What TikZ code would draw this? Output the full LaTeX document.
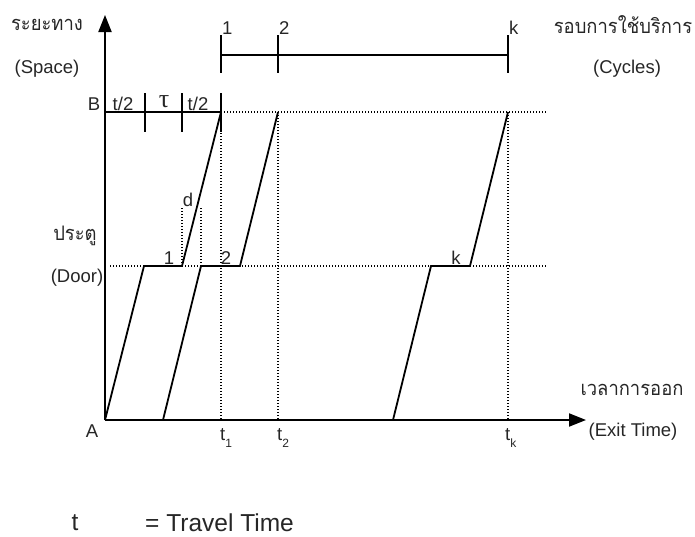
\documentclass[tikz,border=0pt]{standalone}
\usepackage{fontspec}
\setmainfont{Liberation Sans}
\newfontfamily\thaifont[Script=Thai,FakeStretch=0.92]{Loma}
\newfontfamily\serifgreek{Liberation Serif}
\usetikzlibrary{arrows.meta}
\newcommand{\tsub}[1]{t\raisebox{-0.4em}{\fontsize{12}{13}\selectfont #1}}
\begin{document}
\begin{tikzpicture}[x=1pt,y=-1pt,
  lbl/.style={inner sep=0pt,font=\fontsize{18.5}{21}\selectfont,text=black!85},
  thl/.style={inner sep=0pt,font=\thaifont\fontsize{20}{23}\selectfont,text=black!85},
  big/.style={inner sep=0pt,font=\fontsize{24.5}{28}\selectfont,text=black!85},
  axis/.style={line width=2pt,-{Triangle[length=17pt,width=13pt]}},
  traj/.style={line width=1.8pt,line join=miter},
  guide/.style={line width=1.3pt,dash pattern=on 1.2pt off 1.8pt},
  tickmark/.style={line width=1.6pt}]
\useasboundingbox (0,0) rectangle (695,536);
% key points
\coordinate (A) at (105,420);
\coordinate (Ytop) at (105,15);
\coordinate (Xend) at (586,420);
\coordinate (B0) at (105,112);
\coordinate (B1) at (221,112);
\coordinate (B2) at (278,112);
\coordinate (Bk) at (508,112);
\coordinate (Bend) at (547,112);
\coordinate (D0) at (110,266);
\coordinate (Dend) at (547,266);
\coordinate (X1) at (221,420);
\coordinate (X2) at (278,420);
\coordinate (Xk) at (508,420);
% trajectory points
\coordinate (P1a) at (144,266); \coordinate (P1b) at (182,266);
\coordinate (S2) at (163,420); \coordinate (P2a) at (201,266); \coordinate (P2b) at (240,266);
\coordinate (Sk) at (393,420); \coordinate (Pka) at (431,266); \coordinate (Pkb) at (470,266);
\coordinate (d1) at (182,208); \coordinate (d2) at (201,208);
% guides
\draw[guide] (B1) -- (Bend);
\draw[guide] (D0) -- (Dend);
\draw[guide] (B1) -- (X1);
\draw[guide] (B2) -- (X2);
\draw[guide] (Bk) -- (Xk);
\draw[guide] (d1) -- (P1b);
\draw[guide] (d2) -- (P2a);
% axes
\draw[axis] (A) -- (Ytop);
\draw[axis] (A) -- (Xend);
% B line with ticks
\draw[traj] (B0) -- (B1);
\foreach \x in {145,182,221} \draw[tickmark] (\x,93) -- (\x,132);
% trajectories
\draw[traj] (A) -- (P1a) -- (P1b) -- (B1);
\draw[traj] (S2) -- (P2a) -- (P2b) -- (B2);
\draw[traj] (Sk) -- (Pka) -- (Pkb) -- (Bk);
% cycles bracket
\coordinate (C1) at (221,55); \coordinate (Ck) at (508,55);
\draw[line width=2pt] (C1) -- (Ck);
\foreach \x in {221,278,508} \draw[tickmark] (\x,35) -- (\x,73);
% labels
\node[thl] (lspace) at (47,25) {ระยะทาง};
\node[lbl] (lspace2) at (47,69) {(Space)};
\node[thl] (ldoor) at (75,236) {ประตู};
\node[lbl] (ldoor2) at (77,278) {(Door)};
\node[thl] (lcyc) at (623,25) {รอบการใช้บริการ};
\node[lbl] (lcyc2) at (627,69) {(Cycles)};
\node[thl] (lexit) at (632,390) {เวลาการออก};
\node[lbl] (lexit2) at (633,432) {(Exit Time)};
\node[lbl] (lA) at (92,431) {A};
\node[lbl] (lB) at (94,104) {B};
\node[lbl] (lh1) at (123,104) {t/2};
\node[inner sep=0pt,font=\serifgreek\fontsize{26}{28}\selectfont,text=black!85] (ltau) at (164,102) {τ};
\node[lbl] (lh2) at (198,104) {t/2};
\node[lbl,anchor=west] (c1) at (222,28) {1};
\node[lbl,anchor=west] (c2) at (279,28) {2};
\node[lbl,anchor=west] (ck) at (509,28) {k};
\node[lbl] (n1) at (169,258) {1};
\node[lbl] (n2) at (226,258) {2};
\node[lbl] (nk) at (456,258) {k};
\node[lbl] (nd) at (188,200) {d};
\node[lbl,anchor=west] (t1) at (220,438) {\tsub{1}};
\node[lbl,anchor=west] (t2) at (277,438) {\tsub{2}};
\node[lbl,anchor=west] (tk) at (505,438) {\tsub{k}};
\node[big] (lt) at (75,523) {t};
\node[big,anchor=west] (ltt) at (145,523) {= Travel Time};
\end{tikzpicture}
\end{document}
